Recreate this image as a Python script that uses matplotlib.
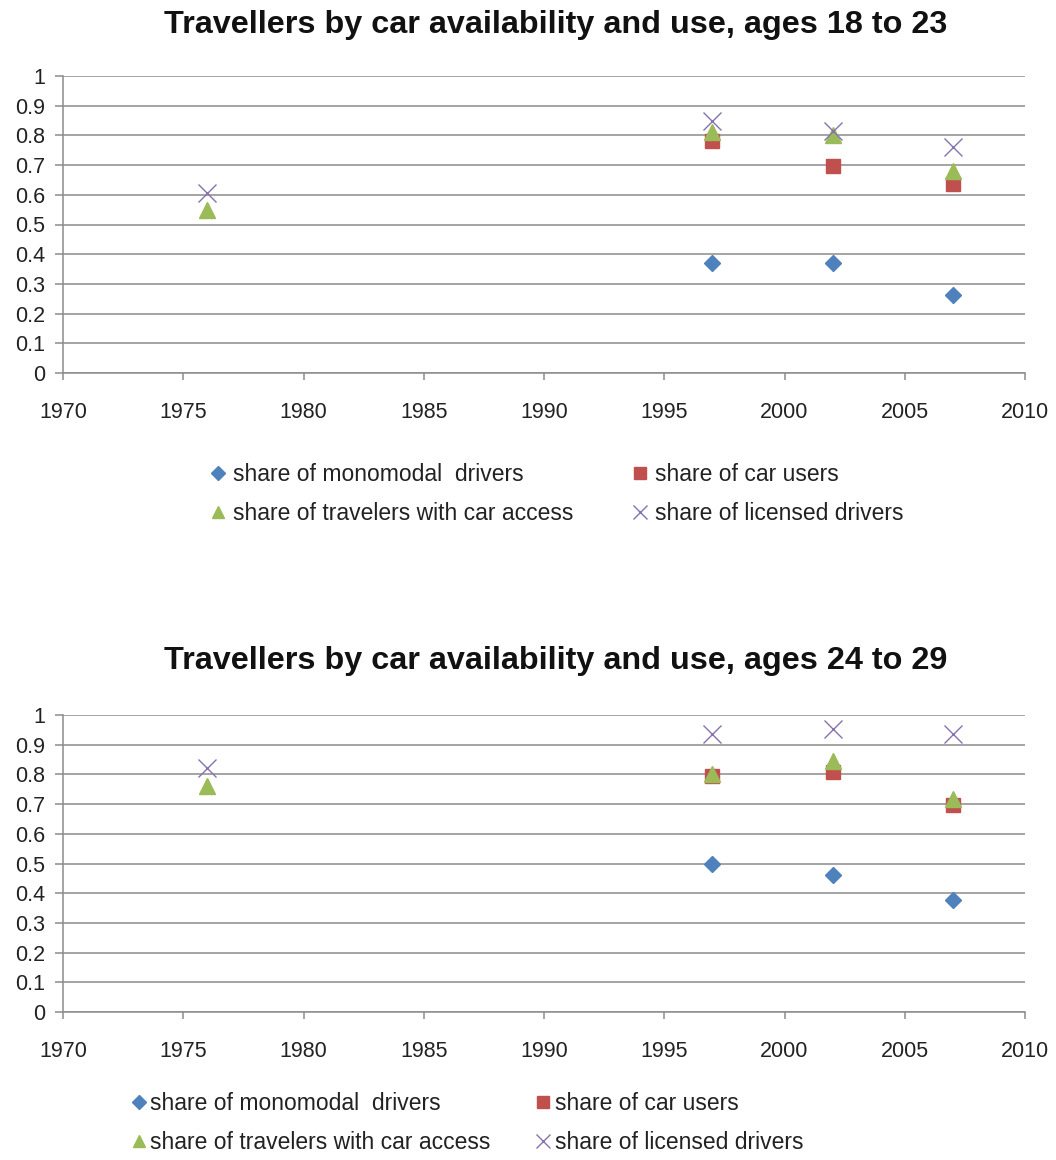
import numpy as np
import matplotlib
matplotlib.use('Agg')
import matplotlib.pyplot as plt

plt.rcParams['font.family'] = ['Liberation Sans', 'DejaVu Sans']

# survey years
years = [1976, 1997, 2002, 2007]

# ages 18 to 23 (no monomodal / car user figures for 1976)
mono_18 = [np.nan, 0.372, 0.37, 0.264]
users_18 = [np.nan, 0.78, 0.697, 0.637]
access_18 = [0.55, 0.81, 0.80, 0.68]
licensed_18 = [0.605, 0.85, 0.815, 0.762]

# ages 24 to 29
mono_24 = [np.nan, 0.497, 0.46, 0.378]
users_24 = [np.nan, 0.795, 0.808, 0.697]
access_24 = [0.76, 0.80, 0.845, 0.717]
licensed_24 = [0.82, 0.937, 0.954, 0.937]

titles = ['Travellers by car availability and use, ages 18 to 23',
          'Travellers by car availability and use, ages 24 to 29']
labels = ['share of monomodal  drivers', 'share of car users',
          'share of travelers with car access', 'share of licensed drivers']
xticks = list(range(1970, 2011, 5))
yticks = [round(0.1 * i, 1) for i in range(11)]
ytick_labels = ['0'] + ['%.1f' % v for v in yticks[1:-1]] + ['1']

colors = ['#4F81BD', '#C0504D', '#9BBB59', '#8672B0']
markers = ['D', 's', '^', 'x']
sizes = [8.5, 10.5, 11, 12.5]

W, H = 1056, 1160
fig = plt.figure(figsize=(W / 100, H / 100), dpi=100)

panels = [
    dict(data=[mono_18, users_18, access_18, licensed_18], top=76, bottom=373,
         title_y=25, leg_x=211, leg_y=463, colsp=2.62, pad=0.35),
    dict(data=[mono_24, users_24, access_24, licensed_24], top=715, bottom=1012,
         title_y=661, leg_x=132, leg_y=1092, colsp=2.0, pad=0.2),
]

for p, title in zip(panels, titles):
    ax = fig.add_axes([63 / W, 1 - p['bottom'] / H, (1025 - 63) / W,
                       (p['bottom'] - p['top']) / H])
    handles = []
    for vals, c, m, s in zip(p['data'], colors, markers, sizes):
        if m == 'x':
            h, = ax.plot(years, vals, ls='none', marker=m, ms=s, mec=c,
                         mew=1.0, clip_on=False)
        else:
            h, = ax.plot(years, vals, ls='none', marker=m, ms=s, color=c,
                         mec=c, clip_on=False)
        handles.append(h)

    ax.set_xlim(1970, 2010)
    ax.set_ylim(0, 1)
    ax.set_xticks(xticks)
    ax.set_yticks(yticks)
    ax.set_yticklabels(ytick_labels)
    ax.yaxis.grid(True, color='#8c8c8c', lw=1.1)
    ax.set_axisbelow(True)
    for side in ['top', 'right']:
        ax.spines[side].set_visible(False)
    for side in ['left', 'bottom']:
        ax.spines[side].set_color('#8c8c8c')
        ax.spines[side].set_linewidth(1.1)
    ax.tick_params(axis='y', direction='out', length=6, width=1.1,
                   color='#8c8c8c', pad=7, labelsize=15.5, labelcolor='#222222')
    ax.tick_params(axis='x', direction='out', length=5, width=1.1,
                   color='#8c8c8c', pad=16, labelsize=15.5, labelcolor='#222222')

    fig.text(556 / W, 1 - p['title_y'] / H, title, ha='center', va='center',
             fontsize=23.3, fontweight='bold', color='#111111')

    # legend: two columns, read across rows
    order = [0, 2, 1, 3]
    fig.legend([handles[i] for i in order], [labels[i] for i in order],
               loc='upper left', bbox_to_anchor=(p['leg_x'] / W, 1 - p['leg_y'] / H),
               ncol=2, frameon=False, fontsize=16.5, handlelength=0.6,
               handletextpad=p['pad'], columnspacing=p['colsp'], labelspacing=0.69,
               borderaxespad=0, borderpad=0, labelcolor='#222222', markerscale=0.85)

fig.savefig('out.png', dpi=100, facecolor='white')
